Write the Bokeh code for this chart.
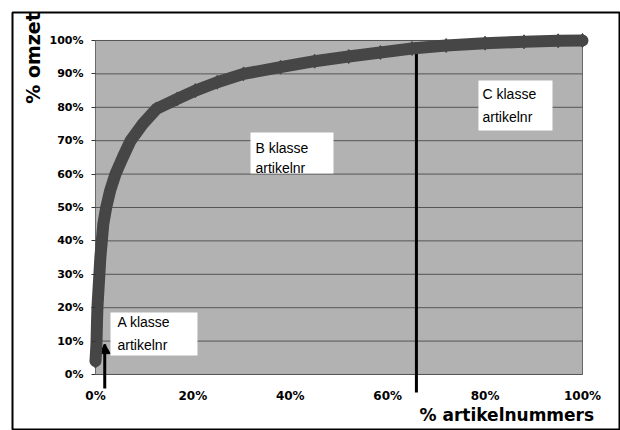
from math import pi

from bokeh.core.properties import value
from bokeh.embed import file_html
from bokeh.models import FixedTicker, Label, NumeralTickFormatter, Range1d
from bokeh.plotting import figure
from bokeh.resources import INLINE

# Cumulative share of article numbers (x) against cumulative share of turnover (y)
pct_articles = [0.000, 0.002, 0.003, 0.004, 0.006, 0.008, 0.010, 0.013, 0.016,
                0.022, 0.030, 0.041, 0.056, 0.072, 0.097, 0.125, 0.168,
                0.205, 0.250, 0.304, 0.380, 0.450, 0.520, 0.585, 0.650, 0.720,
                0.800, 0.880, 0.950, 1.000]
pct_turnover = [0.040, 0.090, 0.150, 0.200, 0.250, 0.300, 0.350, 0.400, 0.450,
                0.500, 0.550, 0.600, 0.650, 0.700, 0.750, 0.795, 0.825,
                0.850, 0.875, 0.900, 0.920, 0.938, 0.952, 0.964, 0.976, 0.985,
                0.992, 0.996, 0.999, 1.000]

# Class boundaries on the article axis
a_cut = 0.019
b_cut = 0.659

y_ticks = [0.0, 0.1, 0.2, 0.3, 0.4, 0.5, 0.6, 0.7, 0.8, 0.9, 1.0]
x_ticks = [0.0, 0.2, 0.4, 0.6, 0.8, 1.0]

class_names = ["A klasse", "B klasse", "C klasse"]
class_sub = "artikelnr"

p = figure(width=620, height=430,
           x_range=Range1d(-0.1704, 1.0760), y_range=Range1d(-0.1677, 1.0838),
           output_backend="svg", toolbar_location=None,
           min_border_left=12, min_border_right=1,
           min_border_top=12, min_border_bottom=0)
p.background_fill_color = "white"
p.border_fill_color = "white"
p.outline_line_color = "black"
p.outline_line_width = 2
p.grid.visible = False

# shaded plot area
p.quad(left=0, right=1, bottom=0, top=1, fill_color="#b2b2b2",
       line_color="#6a6a6a", line_width=1)

# horizontal gridlines
p.segment(x0=[0] * len(y_ticks), x1=[1] * len(y_ticks), y0=y_ticks, y1=y_ticks,
          line_color="#555555", line_width=1)

# class boundary lines
p.segment(x0=[a_cut, b_cut], x1=[a_cut, b_cut], y0=[-0.042, -0.054],
          y1=[0.09, 0.995], line_color="black", line_width=3)
p.scatter([a_cut], [0.072], marker="triangle", size=11, color="black")

# Pareto curve
p.line(pct_articles, pct_turnover, line_width=12, color="#464646",
       line_join="round", line_cap="round")
p.scatter(pct_articles, pct_turnover, marker="diamond", size=14, color="#464646")

# class label boxes
box_left = [0.0308, 0.3183, 0.7864]
box_right = [0.2094, 0.4887, 0.9384]
box_bottom = [0.0569, 0.6018, 0.7305]
box_top = [0.1856, 0.7246, 0.8802]
p.quad(left=box_left, right=box_right, bottom=box_bottom, top=box_top,
       fill_color="white", line_color=None)

txt_x = [0.0452, 0.3285, 0.7947]
line1_y = [0.1557, 0.6781, 0.8383]
line2_y = [0.0868, 0.6168, 0.7710]
p.text(x=txt_x, y=line1_y, text=class_names, text_font=value("Liberation Sans"),
       text_font_size="14px", text_baseline="middle", text_color="black")
p.text(x=txt_x, y=line2_y, text=[class_sub] * 3, text_font=value("Liberation Sans"),
       text_font_size="14px", text_baseline="middle", text_color="black")

# axes
p.yaxis.fixed_location = 0
p.yaxis.ticker = FixedTicker(ticks=y_ticks)
p.yaxis.formatter = NumeralTickFormatter(format="0%")
p.yaxis.axis_line_color = None
p.yaxis.major_tick_out = 4
p.yaxis.major_tick_in = 0
p.yaxis.major_tick_line_color = "#333333"
p.yaxis.minor_tick_line_color = None
p.yaxis.major_label_standoff = 8

p.xaxis.fixed_location = -0.018
p.xaxis.ticker = FixedTicker(ticks=x_ticks)
p.xaxis.formatter = NumeralTickFormatter(format="0%")
p.xaxis.axis_line_color = None
p.xaxis.major_tick_line_color = None
p.xaxis.minor_tick_line_color = None
p.xaxis.major_label_standoff = 2

for ax in (p.xaxis[0], p.yaxis[0]):
    ax.major_label_text_font = "DejaVu Sans"
    ax.major_label_text_font_style = "bold"
    ax.major_label_text_color = "black"
p.yaxis.major_label_text_font_size = "11px"
p.xaxis.major_label_text_font_size = "12px"

# axis titles
p.add_layout(Label(x=(33 - 95) / 487, y=(374 - 57.5) / 334, text="% omzet",
                   angle=pi / 2, text_align="center", text_baseline="middle",
                   text_font="DejaVu Sans", text_font_style="bold",
                   text_font_size="19px", text_color="black"))
p.add_layout(Label(x=(419 - 95) / 487, y=(374 - 415) / 334, text="% artikelnummers",
                   text_align="left", text_baseline="middle",
                   text_font="DejaVu Sans", text_font_style="bold",
                   text_font_size="17px", text_color="black"))

open("out.html", "w").write(file_html(p, INLINE))
